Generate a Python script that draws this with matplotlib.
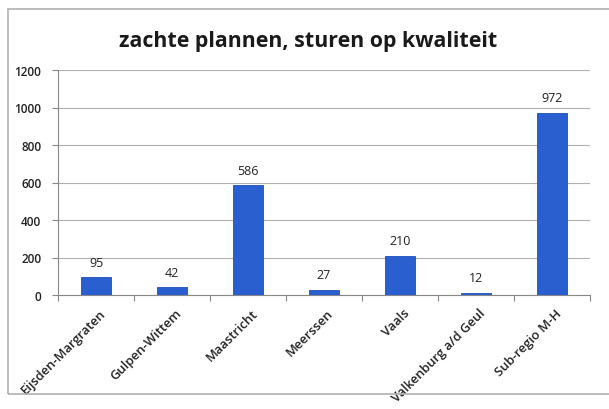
import matplotlib
matplotlib.use("Agg")
import matplotlib.pyplot as plt
from matplotlib.patches import Rectangle

categories = ["Eijsden-Margraten", "Gulpen-Wittem", "Maastricht", "Meerssen",
              "Vaals", "Valkenburg a/d Geul", "Sub-regio M-H"]
values = [95, 42, 586, 27, 210, 12, 972]
yticks = [0, 200, 400, 600, 800, 1000, 1200]

plt.rcParams['font.family'] = ['Open Sans', 'DejaVu Sans']

fig = plt.figure(figsize=(6.09, 4.10), dpi=100)
fig.patch.set_facecolor('white')
fig.patches.append(Rectangle((8/609, 1-395/410), 1, (395-10)/410, transform=fig.transFigure,
                             fill=False, edgecolor='#b0b0b0', linewidth=1.2))

ax = fig.add_axes([58/609, 1-296/410, (590-58)/609, (296-71)/410])
x = list(range(len(categories)))
ax.bar(x, values, width=0.4, color='#2a5fd0', edgecolor='#1f4fb8', linewidth=0.6, zorder=3)
for xi, v in zip(x, values):
    ax.text(xi, v + 45, str(v), ha='center', va='bottom', fontsize=9, color='#222222')

ax.set_ylim(0, 1200)
ax.set_xlim(-0.5, len(categories) - 0.5)
ax.set_yticks(yticks)
ax.set_yticklabels([str(t) for t in yticks], fontsize=8.5, fontweight='semibold', color='#222222')
ax.yaxis.grid(True, color='#b0b0b0', linewidth=0.8, zorder=0)
ax.set_xticks([i + 0.5 for i in range(-1, len(categories))], minor=False)
ax.set_xticklabels([])
ax.tick_params(axis='x', length=4, color='#888888')
ax.tick_params(axis='y', length=4, color='#888888', pad=8)
for xi, c in zip(x, categories):
    ax.annotate(c, xy=(xi, 0), xycoords=('data', 'axes fraction'),
                xytext=(2, -8), textcoords='offset points',
                rotation=45, ha='right', va='top', fontsize=9.3,
                fontweight='semibold', color='#222222', rotation_mode='anchor')
for s in ['top', 'right']:
    ax.spines[s].set_visible(False)
ax.spines['left'].set_color('#888888')
ax.spines['bottom'].set_color('#888888')

fig.text(308/609, 1-42/410, "zachte plannen, sturen op kwaliteit", ha='center', va='center',
         fontsize=15.4, fontweight='bold', color='#1a1a1a')

fig.savefig("out.png", dpi=100)
